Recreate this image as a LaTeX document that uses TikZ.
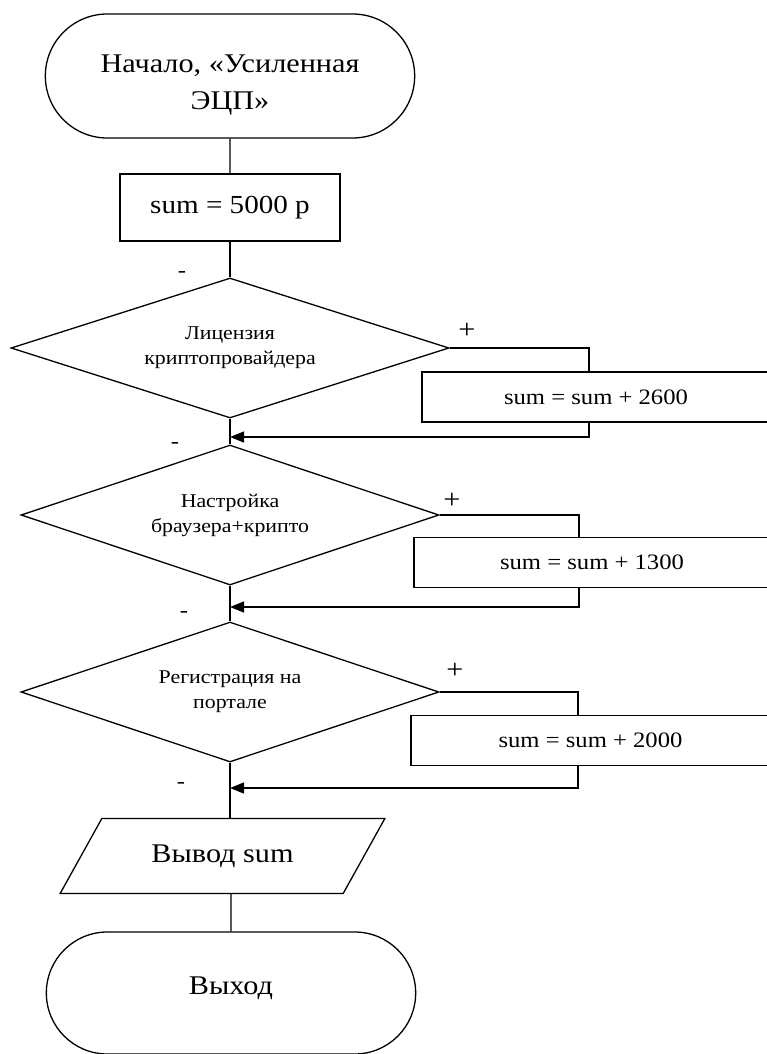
\documentclass[tikz,border=0pt]{standalone}
\usepackage{fontspec}
\setmainfont{Liberation Serif}[FakeStretch=1.12]
\usetikzlibrary{shapes.geometric,shapes.misc,arrows.meta}

\begin{document}
\begin{tikzpicture}[x=1pt, y=-1pt, line width=1.3pt,
	term/.style={draw=black, rounded rectangle, minimum width=376pt, minimum height=124pt, align=center, font=\fontsize{27}{37}\selectfont},
	proc/.style={draw=black, rectangle, minimum height=50pt, font=\fontsize{22}{26}\selectfont},
	cond/.style={draw=black, diamond, aspect=3, minimum width=418pt, minimum height=140pt, inner sep=0pt, align=center, font=\fontsize{19.5}{25}\selectfont},
	io/.style={draw=black, trapezium, trapezium left angle=49, trapezium right angle=131, trapezium stretches=true, minimum width=325pt, minimum height=75pt, font=\fontsize{27}{32}\selectfont},
	sign/.style={inner sep=0pt, font=\fontsize{22}{26}\selectfont},
	flow/.style={-{Triangle[length=14pt, width=11pt]}}]
	\useasboundingbox (0,0) rectangle (766,1054);
	\node[term, text height=73pt] (start) at (230,76) {Начало, «Усиленная\\ЭЦП»};
	\node[proc, minimum width=220pt, minimum height=67pt, font=\fontsize{26}{30}\selectfont] (init) at (230,207.5) {sum = 5000 р};
	\node[cond, minimum width=438pt] (lic) at (230,348) {Лицензия\\криптопровайдера};
	\node[cond] (cfg) at (230,515) {Настройка\\браузера+крипто};
	\node[cond] (reg) at (230,692) {Регистрация на\\портале};
	\node[proc, minimum width=348pt] (add1) at (596,397) {sum = sum + 2600};
	\node[proc, minimum width=356pt] (add2) at (592,562.5) {sum = sum + 1300};
	\node[proc, minimum width=359pt] (add3) at (590.5,740.5) {sum = sum + 2000};
	\node[io] (out) at (222.5,856) {Вывод sum};
	\node[term, minimum height=122pt, text height=8pt] (exit) at (231,993) {Выход};
	\node[sign] (no1) at (182,274) {-};
	\node[sign] (no2) at (175,445) {-};
	\node[sign] (no3) at (184,614) {-};
	\node[sign] (no4) at (181,785) {-};
	\node[sign, font=\fontsize{27}{30}\selectfont] (yes1) at (467,331) {+};
	\node[sign, font=\fontsize{27}{30}\selectfont] (yes2) at (452,501) {+};
	\node[sign, font=\fontsize{27}{30}\selectfont] (yes3) at (455,671) {+};
	\coordinate (k1) at (589,437);
	\coordinate (k2) at (579,607);
	\coordinate (k3) at (578,788);
	\draw (start) -- (init);
	\draw (init) -- (lic);
	\draw (lic) -- (cfg);
	\draw (cfg) -- (reg);
	\draw (reg.south) -- (reg.south |- out.north);
	\draw (out.south -| exit.north) -- (exit);
	\draw (lic.east) -| (k1 |- add1.north);
	\draw[flow] (k1 |- add1.south) -- (k1) -- (lic.south |- k1);
	\draw (cfg.east) -| (k2 |- add2.north);
	\draw[flow] (k2 |- add2.south) -- (k2) -- (cfg.south |- k2);
	\draw (reg.east) -| (k3 |- add3.north);
	\draw[flow] (k3 |- add3.south) -- (k3) -- (reg.south |- k3);
\end{tikzpicture}
\end{document}
